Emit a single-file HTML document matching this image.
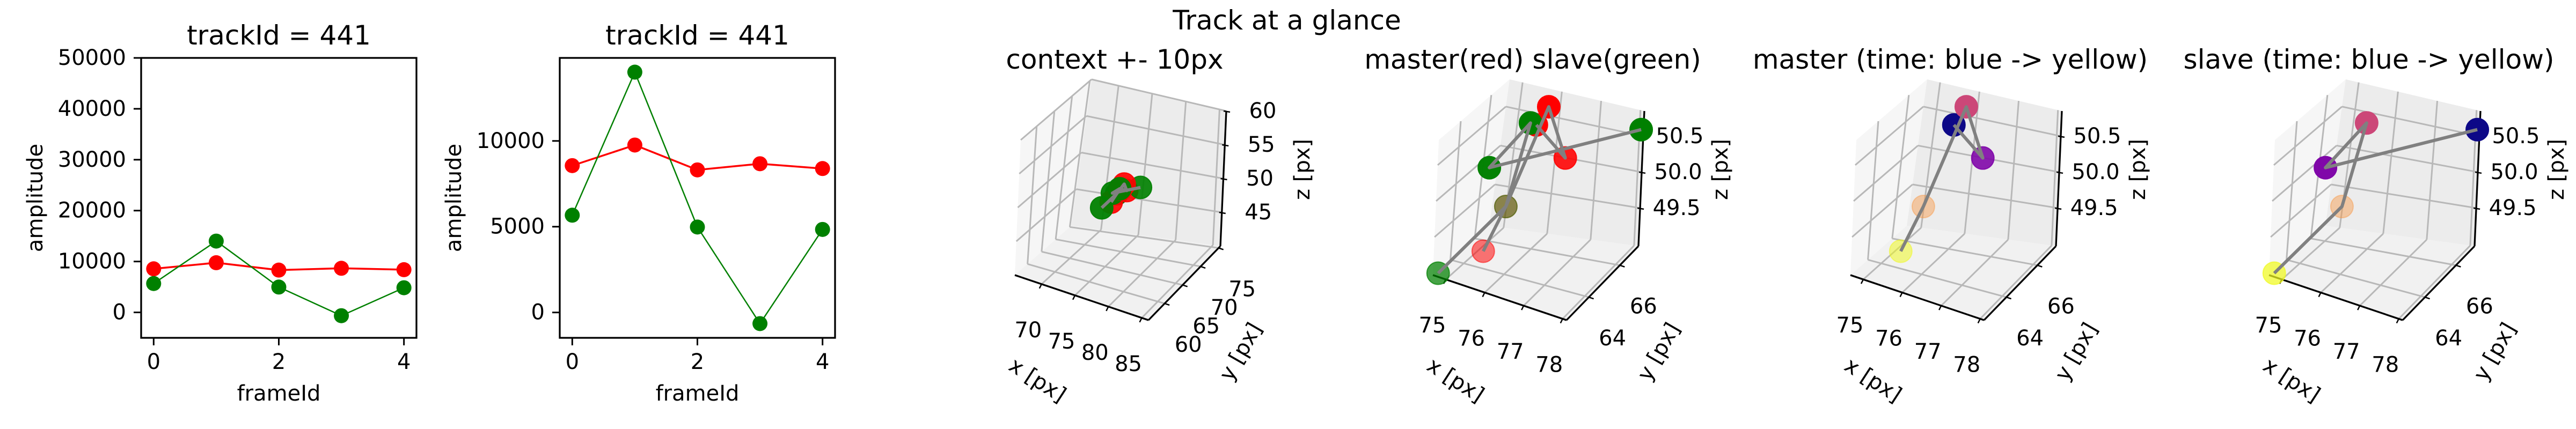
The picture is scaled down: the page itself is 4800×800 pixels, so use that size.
<!DOCTYPE html>
<html><head><meta charset="utf-8"><style>
html,body{margin:0;padding:0;background:#fff;}
svg{display:block;font-family:"DejaVu Sans","Liberation Sans",sans-serif;}
</style></head><body>
<svg id="fig" width="4800" height="800" viewBox="0 0 4800 800" xmlns="http://www.w3.org/2000/svg">
<rect width="4800" height="800" fill="#fff"/>
<text x="2398" y="38" font-size="50" text-anchor="middle" dominant-baseline="central">Track at a glance</text>
</svg>
<script>
// ---- 2D data ----
const frames = [0, 1, 2, 3, 4];
const masterAmp = [8560, 9760, 8310, 8670, 8390];
const slaveAmp = [5670, 14010, 4980, -650, 4840];
const xTicks2d = [0, 2, 4];
const yTicksA = [0, 10000, 20000, 30000, 40000, 50000];
const yTicksB = [0, 5000, 10000];
// ---- 3D data ----
const masterX = [76.08, 76.50, 75.85, 75.05, 75.22];
const masterY = [65.34, 66.27, 66.74, 66.27, 64.42];
const masterZ = [50.70, 50.11, 50.60, 49.17, 48.99];
const slaveX = [78.04, 75.11, 75.93, 75.05, 74.80];
const slaveY = [67.20, 64.88, 65.34, 66.27, 62.56];
const slaveZ = [50.58, 50.03, 50.70, 49.17, 49.02];
const timeColors = ['#0d0887', '#7e03a8', '#cc4778', '#f89540', '#f0f921'];
const ctxXTicks = [70, 75, 80, 85], ctxYTicks = [60, 65, 70, 75], ctxZTicks = [45, 50, 55, 60];
const zoomXTicks = [75, 76, 77, 78], zoomYTicks = [64, 66], zoomZTicks = [49.5, 50.0, 50.5];

const NS = 'http://www.w3.org/2000/svg';
const svg = document.getElementById('fig');
function mk(tag, attrs, parent, text) {
  const e = document.createElementNS(NS, tag);
  for (const k in attrs) e.setAttribute(k, attrs[k]);
  if (text !== undefined) e.textContent = text;
  (parent || svg).appendChild(e);
  return e;
}

// ---------- 2D panels ----------
function panel2d(idx, left, yMin, yMax, yTicks) {
  const right = left + 513, top = 108, bottom = 630;
  const g = mk('g', {});
  
  
  const sx = v => left + (v + 0.2) / 4.4 * (right - left);
  const sy = v => bottom - (v - yMin) / (yMax - yMin) * (bottom - top);
  const t = mk('text', {x: (left + right) / 2, y: 66, 'font-size': 50, 'text-anchor': 'middle', 'dominant-baseline': 'central'}, g, 'trackId = 441');
  
  
  xTicks2d.forEach(v => {
    mk('line', {x1: sx(v), x2: sx(v), y1: bottom, y2: bottom + 14, stroke: '#000', 'stroke-width': 3}, g);
    const l = mk('text', {x: sx(v), y: 675, 'font-size': 40, 'text-anchor': 'middle', 'dominant-baseline': 'central'}, g, String(v));
    
    
  });
  yTicks.forEach(v => {
    mk('line', {x1: left - 14, x2: left, y1: sy(v), y2: sy(v), stroke: '#000', 'stroke-width': 3}, g);
    const l = mk('text', {x: left - 28, y: sy(v), 'font-size': 40, 'text-anchor': 'end', 'dominant-baseline': 'central'}, g, String(v));
    
    
  });
  const yl = mk('text', {x: 0, y: 0, 'font-size': 40, 'text-anchor': 'middle', 'dominant-baseline': 'central', transform: `translate(${left - 197},369) rotate(-90)`}, g, 'amplitude');
  
  
  const xl = mk('text', {x: (left + right) / 2, y: 734, 'font-size': 40, 'text-anchor': 'middle', 'dominant-baseline': 'central'}, g, 'frameId');
  
  
  [[masterAmp, '#ff0000', 3.5, 'master'], [slaveAmp, '#008000', 2.5, 'slave']].forEach(([arr, col, w, nm]) => {
    const pl = mk('polyline', {points: arr.map((v, i) => sx(frames[i]) + ',' + sy(v)).join(' '), fill: 'none', stroke: col, 'stroke-width': w}, g);
    
    
  });
  [[masterAmp, '#ff0000', 'master'], [slaveAmp, '#008000', 'slave']].forEach(([arr, col, nm]) => {
    arr.forEach((v, i) => {
      const c = mk('circle', {cx: sx(frames[i]), cy: sy(v), r: 14, fill: col}, g);
      
      
    });
  });
  const fr = mk('rect', {x: left, y: top, width: right - left, height: bottom - top, fill: 'none', stroke: '#000', 'stroke-width': 3.3}, g);
  
  
}
panel2d(1, 263, -5000, 50000, yTicksA);
panel2d(2, 1043, -1480, 14840, yTicksB);

// ---------- 3D panels ----------
const EX = [-249, -84], EY = [134, -138], EZ = [11, -252];
function panel3d(idx, P0x, title, rx, ry, rz, xt, yt, zt, zfmt, tracks) {
  const P0y = 597;
  const g = mk('g', {});
  
  
  const box = (fx, fy, fz) => {
    const cx = -29 + 27 * fz, cy = 46 - 21 * fz;
    return [P0x + fx * EX[0] + fy * EY[0] + fz * EZ[0] + fx * fy * cx,
            P0y + fx * EX[1] + fy * EY[1] + fz * EZ[1] + fx * fy * cy];
  };
  const fX = v => (rx[1] - v) / (rx[1] - rx[0]);
  const fY = v => (v - ry[0]) / (ry[1] - ry[0]);
  const fZ = v => (v - rz[0]) / (rz[1] - rz[0]);
  const pt = (x, y, z) => {
    const a = fX(x), b = fY(y), c = fZ(z);
    return [P0x + a * EX[0] + b * EY[0] + c * EZ[0], P0y + a * EX[1] + b * EY[1] + c * EZ[1]];
  };
  const poly = (pts, fill, nm) => {
    const p = mk('polygon', {points: pts.map(q => q.join(',')).join(' '), fill: fill}, g);
    
    
  };
  poly([box(1,0,0), box(1,1,0), box(1,1,1), box(1,0,1)], '#f6f6f6', 'left-pane');
  poly([box(1,1,0), box(0,1,0), box(0,1,1), box(1,1,1)], '#ececec', 'back-pane');
  poly([box(0,0,0), box(1,0,0), box(1,1,0), box(0,1,0)], '#f1f1f1', 'floor-pane');
  const gl = (a, b) => mk('line', {x1: a[0], y1: a[1], x2: b[0], y2: b[1], stroke: '#b8b8b8', 'stroke-width': 3}, g);
  xt.forEach(v => { const f = fX(v); gl(box(f,0,0), box(f,1,0)); gl(box(f,1,0), box(f,1,1)); });
  yt.forEach(v => { const f = fY(v); gl(box(0,f,0), box(1,f,0)); gl(box(1,f,0), box(1,f,1)); });
  zt.forEach(v => { const f = fZ(v); gl(box(1,0,f), box(1,1,f)); gl(box(1,1,f), box(0,1,f)); });
  const ax = (a, b, nm) => {
    const l = mk('line', {x1: a[0], y1: a[1], x2: b[0], y2: b[1], stroke: '#000', 'stroke-width': 3.3}, g);
    
    
  };
  ax(box(0,0,0), box(1,0,0), 'x-axis-line');
  ax(box(0,0,0), box(0,1,0), 'y-axis-line');
  ax(box(0,1,0), box(0,1,1), 'z-axis-line');
  const lbl = (x, y, s, anchor, nm) => {
    const t = mk('text', {x: x, y: y, 'font-size': 40, 'text-anchor': anchor, 'dominant-baseline': 'central'}, g, s);
    
    
  };
  xt.forEach(v => {
    const p = box(fX(v), 0, 0);
    mk('line', {x1: p[0], y1: p[1], x2: p[0] - 4, y2: p[1] + 8, stroke: '#000', 'stroke-width': 2.5}, g);
    lbl(p[0] - 25, p[1] + 86, String(v), 'middle', 'x-tick-label');
  });
  yt.forEach(v => {
    const p = box(0, fY(v), 0);
    mk('line', {x1: p[0], y1: p[1], x2: p[0] + 9, y2: p[1] + 3, stroke: '#000', 'stroke-width': 2.5}, g);
    lbl(p[0] + 44, p[1] + 77, String(v), 'middle', 'y-tick-label');
  });
  zt.forEach(v => {
    const p = box(0, 1, fZ(v));
    mk('line', {x1: p[0] - 5, y1: p[1], x2: p[0] + 7, y2: p[1] + 2, stroke: '#000', 'stroke-width': 2.5}, g);
    lbl(p[0] + 68, p[1], zfmt(v), 'middle', 'z-tick-label');
  });
  const rot = (x, y, a, s, nm) => {
    const t = mk('text', {x: 0, y: 0, 'font-size': 40, 'text-anchor': 'middle', 'dominant-baseline': 'central', transform: `translate(${x},${y}) rotate(${a})`}, g, s);
    
    
  };
  rot(P0x - 207, P0y + 112, 33, 'x [px]', 'x-axis-title');
  rot(P0x + 172, P0y + 59, -60, 'y [px]', 'y-axis-title');
  rot(P0x + 287, 316, -90, 'z [px]', 'z-axis-title');
  const tt = mk('text', {x: P0x - 63, y: 111, 'font-size': 50, 'text-anchor': 'middle', 'dominant-baseline': 'central'}, g, title);
  
  
  const marks = [];
  tracks.forEach(tr => {
    tr.x.forEach((xv, i) => {
      const fz = fZ(tr.z[i]), fy = fY(tr.y[i]);
      const alpha = Math.min(1, 0.25 + 0.9 * Math.max(0, Math.min(1, fz)) + 0.45 * (1 - Math.max(0, Math.min(1, fy))));
      marks.push({p: pt(xv, tr.y[i], tr.z[i]), col: tr.colors[i], alpha: alpha, nm: tr.name + '-point-' + i});
    });
  });
  marks.sort((a, b) => a.alpha - b.alpha);
  marks.forEach(m => {
    const c = mk('circle', {cx: m.p[0], cy: m.p[1], r: 21, fill: m.col, 'fill-opacity': m.alpha, stroke: m.col, 'stroke-opacity': m.alpha, 'stroke-width': 2}, g);
    
    
  });
  tracks.forEach(tr => {
    const pl = mk('polyline', {points: tr.x.map((xv, i) => pt(xv, tr.y[i], tr.z[i]).join(',')).join(' '), fill: 'none', stroke: '#808080', 'stroke-width': 6, 'stroke-linejoin': 'round'}, g);
    
    
  });
}
const red5 = masterX.map(() => '#ff0000'), green5 = slaveX.map(() => '#008000');
const ctxRange = [[66, 86], [55.5, 75.5], [40, 60]];
const zoomRange = [[74.67, 78.1], [62.56, 67.2], [48.97, 50.85]];
const fInt = v => String(v), f1 = v => v.toFixed(1);
panel3d(3, 2140, 'context +- 10px', ctxRange[0], ctxRange[1], ctxRange[2], ctxXTicks, ctxYTicks, ctxZTicks, fInt,
  [{x: masterX, y: masterY, z: masterZ, colors: red5, name: 'master'}, {x: slaveX, y: slaveY, z: slaveZ, colors: green5, name: 'slave'}]);
panel3d(4, 2919, 'master(red) slave(green)', zoomRange[0], zoomRange[1], zoomRange[2], zoomXTicks, zoomYTicks, zoomZTicks, f1,
  [{x: masterX, y: masterY, z: masterZ, colors: red5, name: 'master'}, {x: slaveX, y: slaveY, z: slaveZ, colors: green5, name: 'slave'}]);
panel3d(5, 3697, 'master (time: blue -> yellow)', zoomRange[0], zoomRange[1], zoomRange[2], zoomXTicks, zoomYTicks, zoomZTicks, f1,
  [{x: masterX, y: masterY, z: masterZ, colors: timeColors, name: 'master'}]);
panel3d(6, 4477, 'slave (time: blue -> yellow)', zoomRange[0], zoomRange[1], zoomRange[2], zoomXTicks, zoomYTicks, zoomZTicks, f1,
  [{x: slaveX, y: slaveY, z: slaveZ, colors: timeColors, name: 'slave'}]);
</script>
</body></html>
